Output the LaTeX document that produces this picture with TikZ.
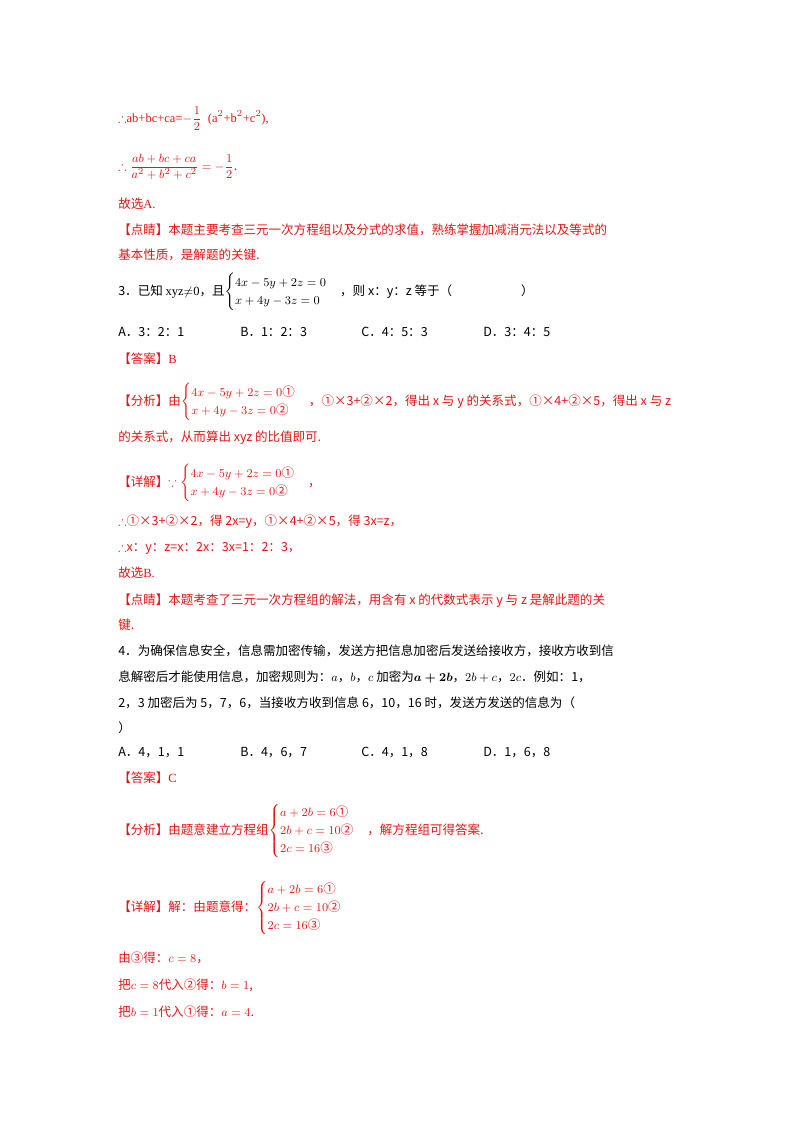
\documentclass[tikz,border=0pt]{standalone}
\usepackage{amsmath,amssymb}
\usepackage{fontspec}
\setmainfont{Liberation Serif}
\newfontfamily\cjk{Noto Sans CJK SC}
\definecolor{ansred}{RGB}{232,20,20}
\newcommand{\ci}[1]{\text{\cjk #1}}
\renewcommand{\arraystretch}{1.35}
\tikzset{
  txt/.style={anchor=base west,inner sep=0pt,font=\fontsize{9.4}{11}\selectfont\cjk},
  red txt/.style={txt,text=ansred}
}
\begin{document}
\begin{tikzpicture}[x=0.75pt,y=-0.75pt]
\useasboundingbox (0,0) rectangle (800,1132);
% tail of question 2
\node[red txt] (l1) at (118,122) {$\therefore$\rmfamily ab+bc+ca=$-\dfrac{1}{2}$\ \ (a$^2$+b$^2$+c$^2$),};
\node[red txt] (l2) at (118,170) {$\therefore \dfrac{ab+bc+ca}{a^2+b^2+c^2}=-\dfrac12$.};
\node[red txt] (l3) at (118,208) {故选\rmfamily A.};
\node[red txt] (l4) at (118,234) {【点睛】本题主要考查三元一次方程组以及分式的求值，熟练掌握加减消元法以及等式的};
\node[red txt] (l5) at (118,259) {基本性质，是解题的关键.};
% question 3
\node[txt] (q3) at (118,295) {3．已知 \rmfamily xyz$\neq$0\cjk，且$\begin{cases}4x-5y+2z=0\\x+4y-3z=0\end{cases}$，则 x：y：z 等于（\hspace{5.5em}）};
\node[txt] (q3a) at (118,336) {A．3：2：1};
\node[txt] (q3b) at (240,336) {B．1：2：3};
\node[txt] (q3c) at (361,336) {C．4：5：3};
\node[txt] (q3d) at (483,336) {D．3：4：5};
\node[red txt] (q3ans) at (118,363) {【答案】\rmfamily B};
\node[red txt] (q3fx) at (118,405) {【分析】由$\begin{cases}4x-5y+2z=0\ci{①}\\x+4y-3z=0\ci{②}\end{cases}$，①×3+②×2，得出 x 与 y 的关系式，①×4+②×5，得出 x 与 z};
\node[red txt] (q3fx2) at (118,441) {的关系式，从而算出 xyz 的比值即可.};
\node[red txt] (q3xj) at (118,486) {【详解】$\because\begin{cases}4x-5y+2z=0\ci{①}\\x+4y-3z=0\ci{②}\end{cases}$，};
\node[red txt] (q3s1) at (118,525) {$\therefore$①×3+②×2，得 2x=y，①×4+②×5，得 3x=z，};
\node[red txt] (q3s2) at (118,551) {$\therefore$x：y：z=x：2x：3x=1：2：3，};
\node[red txt] (q3s3) at (118,577) {故选\rmfamily B.};
\node[red txt] (q3dj) at (118,604) {【点睛】本题考查了三元一次方程组的解法，用含有 x 的代数式表示 y 与 z 是解此题的关};
\node[red txt] (q3dj2) at (118,629) {键.};
% question 4
\node[txt] (q4) at (118,655) {4．为确保信息安全，信息需加密传输，发送方把信息加密后发送给接收方，接收方收到信};
\node[txt] (q4b) at (118,681) {息解密后才能使用信息，加密规则为：$a$，$b$，$c$ 加密为$\boldsymbol{a+2b}$，$2b+c$，$2c$．例如：1，};
\node[txt] (q4c) at (118,707) {2，3 加密后为 5，7，6，当接收方收到信息 6，10，16 时，发送方发送的信息为（};
\node[txt] (q4d) at (118,732) {）};
\node[txt] (q4oa) at (118,756) {A．4，1，1};
\node[txt] (q4ob) at (240,756) {B．4，6，7};
\node[txt] (q4oc) at (361,756) {C．4，1，8};
\node[txt] (q4od) at (483,756) {D．1，6，8};
\node[red txt] (q4ans) at (118,782) {【答案】\rmfamily C};
\node[red txt] (q4fx) at (118,834) {【分析】由题意建立方程组$\begin{cases}a+2b=6\ci{①}\\2b+c=10\ci{②}\\2c=16\ci{③}\end{cases}$，解方程组可得答案.};
\node[red txt] (q4xj) at (118,911) {【详解】解：由题意得：$\begin{cases}a+2b=6\ci{①}\\2b+c=10\ci{②}\\2c=16\ci{③}\end{cases}$};
\node[red txt] (q4s1) at (118,962) {由③得：$c=8$，};
\node[red txt] (q4s2) at (118,989) {把$c=8$代入②得：$b=1$,};
\node[red txt] (q4s3) at (118,1016) {把$b=1$代入①得：$a=4$.};
\end{tikzpicture}
\end{document}
